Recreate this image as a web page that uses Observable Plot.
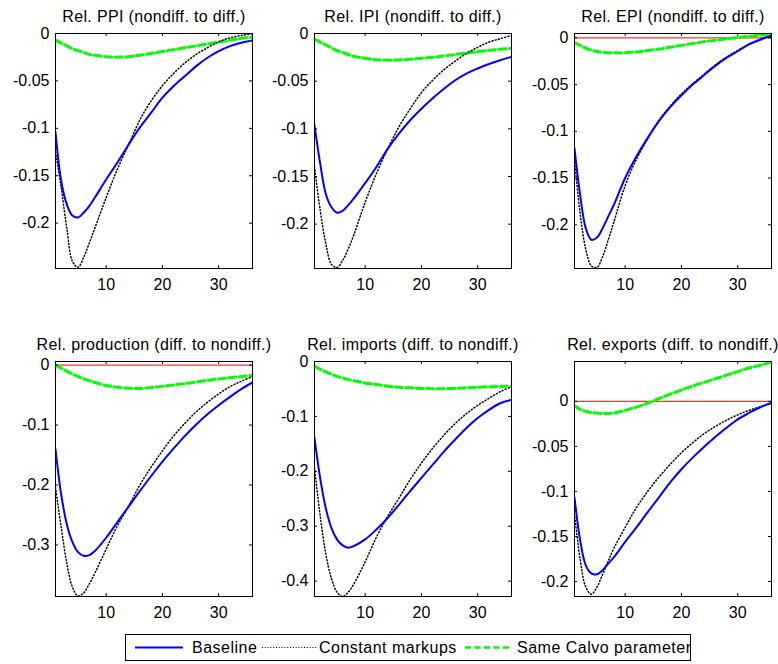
<!DOCTYPE html>
<html>
<head>
<meta charset="utf-8">
<script src="https://cdn.jsdelivr.net/npm/d3@7"></script>
<script src="https://cdn.jsdelivr.net/npm/@observablehq/plot@0.6"></script>
<style>
  html, body { margin: 0; padding: 0; background: #fff; }
  #chart { position: relative; width: 778px; height: 664px; background: #fff; overflow: hidden;
           font-family: "Liberation Sans", Arial, Helvetica, sans-serif; }
  .panel { position: absolute; }
  #legend { position: absolute; left: 125px; top: 634px; width: 566px; height: 27px;
            border: 1px solid #000; box-sizing: border-box; background: #fff; }
</style>
</head>
<body>
<div id="chart"></div>
<script>
// ---------- data ----------
const periods = [1,2,3,4,5,6,7,8,10,12,14,16,18,20,22,24,26,28,30,32,34,36];

const seriesNames = ["Baseline", "Constant markups", "Same Calvo parameter"];

const titles = [
  "Rel. PPI (nondiff. to diff.)",
  "Rel. IPI (nondiff. to diff.)",
  "Rel. EPI (nondiff. to diff.)",
  "Rel. production (diff. to nondiff.)",
  "Rel. imports (diff. to nondiff.)",
  "Rel. exports (diff. to nondiff.)"
];

// Rel. PPI
const ppiBaseline = [-0.104,-0.155,-0.180,-0.192,-0.194,-0.189,-0.182,-0.173,-0.154,-0.136,-0.117,-0.099,-0.0835,-0.0677,-0.0554,-0.0449,-0.0344,-0.0256,-0.0186,-0.0133,-0.0098,-0.0074];
const ppiConstant = [-0.125,-0.162,-0.205,-0.240,-0.2465,-0.236,-0.221,-0.205,-0.173,-0.143,-0.117,-0.091,-0.071,-0.055,-0.042,-0.031,-0.022,-0.015,-0.0088,-0.0046,-0.002,-0.0004];
const ppiCalvo    = [-0.007,-0.010,-0.013,-0.016,-0.018,-0.020,-0.022,-0.023,-0.0245,-0.025,-0.0245,-0.023,-0.021,-0.019,-0.017,-0.015,-0.013,-0.011,-0.009,-0.007,-0.005,-0.004];

// Rel. IPI
const ipiBaseline = [-0.096,-0.136,-0.168,-0.182,-0.188,-0.186,-0.180,-0.173,-0.157,-0.140,-0.121,-0.105,-0.091,-0.079,-0.068,-0.058,-0.049,-0.042,-0.0367,-0.032,-0.028,-0.0245];
const ipiConstant = [-0.140,-0.185,-0.220,-0.242,-0.2455,-0.238,-0.226,-0.211,-0.177,-0.147,-0.121,-0.098,-0.079,-0.062,-0.049,-0.038,-0.029,-0.021,-0.0145,-0.009,-0.0055,-0.002];
const ipiCalvo    = [-0.006,-0.009,-0.012,-0.015,-0.018,-0.020,-0.022,-0.024,-0.026,-0.0275,-0.028,-0.0278,-0.027,-0.026,-0.025,-0.0235,-0.022,-0.0205,-0.019,-0.0177,-0.0165,-0.0157];

// Rel. EPI
const epiBaseline = [-0.118,-0.168,-0.2036,-0.216,-0.2136,-0.2036,-0.191,-0.1786,-0.150,-0.127,-0.107,-0.089,-0.074,-0.0614,-0.050,-0.040,-0.030,-0.0214,-0.0143,-0.007,-0.002,0.0025];
const epiConstant = [-0.130,-0.188,-0.226,-0.244,-0.2455,-0.234,-0.216,-0.197,-0.158,-0.130,-0.108,-0.088,-0.073,-0.060,-0.049,-0.039,-0.029,-0.0205,-0.0135,-0.0065,-0.0015,0.003];
const epiCalvo    = [-0.005,-0.008,-0.011,-0.013,-0.0145,-0.0155,-0.016,-0.016,-0.016,-0.015,-0.0135,-0.012,-0.010,-0.008,-0.006,-0.004,-0.0025,-0.001,0.0005,0.0017,0.0028,0.0037];

// Rel. production
const prodBaseline = [-0.140,-0.215,-0.265,-0.295,-0.312,-0.318,-0.317,-0.310,-0.288,-0.262,-0.236,-0.210,-0.185,-0.161,-0.139,-0.118,-0.099,-0.082,-0.067,-0.053,-0.040,-0.029];
const prodConstant = [-0.204,-0.270,-0.330,-0.370,-0.385,-0.380,-0.365,-0.347,-0.307,-0.268,-0.235,-0.200,-0.170,-0.143,-0.118,-0.097,-0.078,-0.062,-0.048,-0.036,-0.027,-0.019];
const prodCalvo    = [0.000,-0.005,-0.010,-0.015,-0.019,-0.023,-0.026,-0.029,-0.034,-0.037,-0.0385,-0.039,-0.0375,-0.0355,-0.033,-0.031,-0.028,-0.0255,-0.023,-0.021,-0.019,-0.017];

// Rel. imports
const impBaseline = [-0.139,-0.212,-0.267,-0.303,-0.324,-0.335,-0.339,-0.336,-0.324,-0.306,-0.285,-0.261,-0.236,-0.212,-0.188,-0.164,-0.142,-0.121,-0.103,-0.088,-0.076,-0.070];
const impConstant = [-0.194,-0.280,-0.350,-0.395,-0.420,-0.428,-0.420,-0.405,-0.365,-0.320,-0.282,-0.249,-0.215,-0.185,-0.158,-0.134,-0.113,-0.095,-0.080,-0.067,-0.055,-0.046];
const impCalvo    = [-0.009,-0.014,-0.019,-0.023,-0.027,-0.030,-0.033,-0.035,-0.039,-0.042,-0.045,-0.047,-0.048,-0.049,-0.0495,-0.0495,-0.049,-0.048,-0.047,-0.046,-0.0455,-0.045];

// Rel. exports
const expBaseline = [-0.1066,-0.154,-0.182,-0.191,-0.192,-0.1875,-0.180,-0.173,-0.156,-0.140,-0.123,-0.1066,-0.090,-0.0754,-0.0625,-0.0507,-0.0397,-0.0294,-0.020,-0.0129,-0.0066,-0.0018];
const expConstant = [-0.125,-0.175,-0.206,-0.214,-0.206,-0.192,-0.177,-0.163,-0.140,-0.118,-0.100,-0.084,-0.070,-0.057,-0.046,-0.036,-0.028,-0.021,-0.015,-0.010,-0.006,-0.002];
const expCalvo    = [-0.005,-0.009,-0.011,-0.0125,-0.013,-0.0135,-0.0135,-0.013,-0.010,-0.0065,-0.002,0.003,0.008,0.0125,0.017,0.021,0.025,0.029,0.033,0.037,0.040,0.0435];

// axis ticks
const xTicks = [10, 20, 30];
const yTicksA = [0, -0.05, -0.1, -0.15, -0.2];
const yTicksB = [0, -0.1, -0.2, -0.3];
const yTicksC = [0, -0.1, -0.2, -0.3, -0.4];

// axis limits (tight, as in the original)
const yDomains = [
  [-0.2478, 0],
  [-0.2465, 0],
  [-0.2468, 0.0047],
  [-0.386, 0.006],
  [-0.428, 0],
  [-0.2166, 0.0442]
];

const panels = [
  {title: titles[0], b: ppiBaseline, c: ppiConstant, s: ppiCalvo, ticks: yTicksA, domain: yDomains[0]},
  {title: titles[1], b: ipiBaseline, c: ipiConstant, s: ipiCalvo, ticks: yTicksA, domain: yDomains[1]},
  {title: titles[2], b: epiBaseline, c: epiConstant, s: epiCalvo, ticks: yTicksA, domain: yDomains[2]},
  {title: titles[3], b: prodBaseline, c: prodConstant, s: prodCalvo, ticks: yTicksB, domain: yDomains[3]},
  {title: titles[4], b: impBaseline, c: impConstant, s: impCalvo, ticks: yTicksC, domain: yDomains[4]},
  {title: titles[5], b: expBaseline, c: expConstant, s: expCalvo, ticks: yTicksA, domain: yDomains[5]}
];

// ---------- layout ----------
const ML = 55, MR = 7, MT = 33, MB = 32;
const PW = 197, PH = 235;
const W = ML + PW + MR, H = MT + PH + MB;
const slots = [[0, 0], [259, 0], [519, 0], [0, 327.5], [259, 327.5], [519, 327.5]];

const fontFamily = '"Liberation Sans", Arial, Helvetica, sans-serif';
const toRows = (vals) => periods.map((x, i) => ({x, y: vals[i]}));
const fmt = (d) => d === 0 ? "0" : String(d);
const TK = 3;

const chart = document.getElementById("chart");

panels.forEach((p, i) => {
  const svg = Plot.plot({
    width: W, height: H,
    marginLeft: ML, marginRight: MR, marginTop: MT, marginBottom: MB,
    style: {fontFamily, fontSize: "16px", background: "transparent", color: "#000", overflow: "visible"},
    x: {domain: [1, 36]},
    y: {domain: p.domain},
    marks: [
      Plot.ruleY([0], {stroke: "#ff0000", strokeWidth: 1}),
      Plot.line(toRows(p.s), {x: "x", y: "y", stroke: "#00ff00", strokeWidth: 3, strokeDasharray: "7 3.5", curve: "catmull-rom", clip: true}),
      Plot.line(toRows(p.c), {x: "x", y: "y", stroke: "#000", strokeWidth: 1.5, strokeDasharray: "1 2.3", curve: "catmull-rom", clip: true}),
      Plot.line(toRows(p.b), {x: "x", y: "y", stroke: "#0000ff", strokeWidth: 2, curve: "catmull-rom", clip: true}),
      Plot.frame({stroke: "#000", strokeWidth: 1}),
      Plot.tickX(xTicks, {x: (d) => d, insetTop: PH - TK, stroke: "#000"}),
      Plot.tickX(xTicks, {x: (d) => d, insetBottom: PH - TK, stroke: "#000"}),
      Plot.tickY(p.ticks, {y: (d) => d, insetRight: PW - TK, stroke: "#000"}),
      Plot.tickY(p.ticks, {y: (d) => d, insetLeft: PW - TK, stroke: "#000"}),
      Plot.axisX(xTicks, {tickSize: 0, tickPadding: 10, label: null, fontSize: 16}),
      Plot.axisY(p.ticks, {tickSize: 0, tickPadding: 6, label: null, fontSize: 16, tickFormat: fmt}),
      Plot.text([p.title], {frameAnchor: "top", dy: -23, fontSize: 16, fill: "#000"})
    ]
  });
  svg.classList.add("panel");
  svg.style.left = slots[i][0] + "px";
  svg.style.top = slots[i][1] + "px";
  svg.querySelectorAll("text").forEach((t) => {
    if (t.textContent.startsWith("Rel.")) t.style.letterSpacing = "0.35px";
  });
  chart.appendChild(svg);
});

// ---------- legend ----------
const legend = document.createElement("div");
legend.id = "legend";
const ns = "http://www.w3.org/2000/svg";
const lsvg = document.createElementNS(ns, "svg");
lsvg.setAttribute("width", 564);
lsvg.setAttribute("height", 25);
lsvg.style.overflow = "visible";
const legendItems = [
  {name: seriesNames[0], x1: 9, x2: 57, tx: 66, stroke: "#0000ff", w: 2, dash: null},
  {name: seriesNames[1], x1: 136, x2: 191, tx: 193, stroke: "#000", w: 1.2, dash: "1 1.8"},
  {name: seriesNames[2], x1: 339, x2: 385, tx: 391, stroke: "#00ff00", w: 2.5, dash: "6 3.5"}
];
legendItems.forEach((it) => {
  const ln = document.createElementNS(ns, "line");
  ln.setAttribute("x1", it.x1); ln.setAttribute("x2", it.x2);
  ln.setAttribute("y1", 12.5); ln.setAttribute("y2", 12.5);
  ln.setAttribute("stroke", it.stroke); ln.setAttribute("stroke-width", it.w);
  if (it.dash) ln.setAttribute("stroke-dasharray", it.dash);
  lsvg.appendChild(ln);
  const tx = document.createElementNS(ns, "text");
  tx.setAttribute("x", it.tx); tx.setAttribute("y", 12.5);
  tx.setAttribute("dy", "0.35em");
  tx.setAttribute("font-size", 16);
  tx.setAttribute("font-family", fontFamily);
  tx.setAttribute("letter-spacing", "0.5");
  tx.textContent = it.name;
  lsvg.appendChild(tx);
});
legend.appendChild(lsvg);
chart.appendChild(legend);
</script>
</body>
</html>
